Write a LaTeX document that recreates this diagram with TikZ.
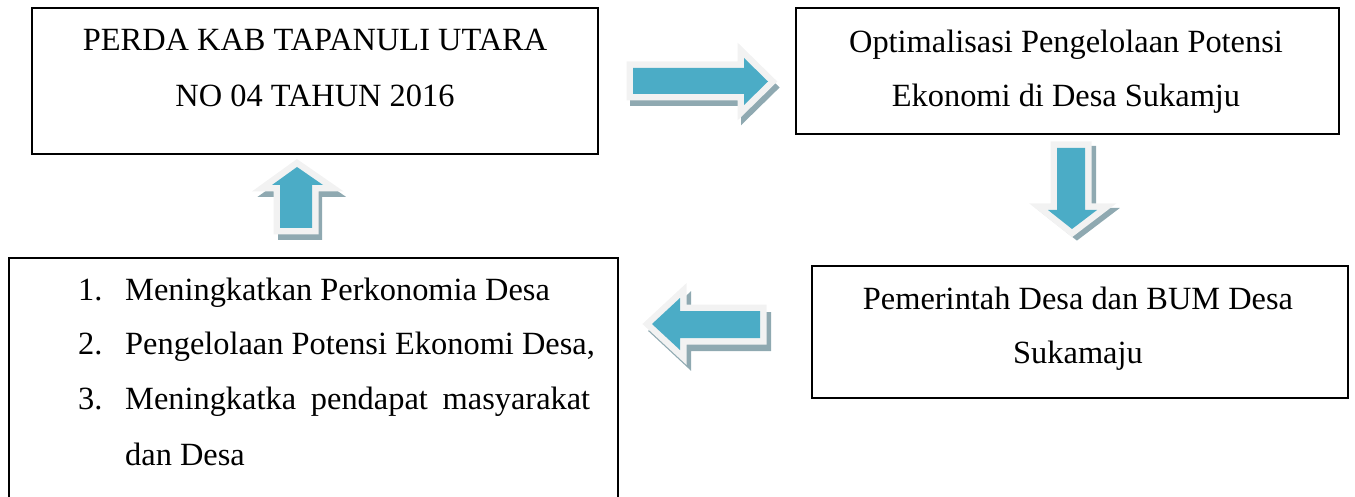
\documentclass[tikz,border=0pt]{standalone}
\usepackage{fontspec}
\setmainfont{Liberation Serif}
\definecolor{arrblue}{HTML}{4BACC6}
\definecolor{arrgrey}{HTML}{F2F2F2}
\definecolor{arrshadow}{HTML}{8FA9B1}
\begin{document}
\begin{tikzpicture}[x=1pt,y=-1pt,
  box/.style={draw=black,line width=1.6pt,inner sep=0pt},
  txt/.style={inner sep=0pt,anchor=base,font=\fontsize{32.4}{35}\selectfont},
  ltxt/.style={txt,anchor=base west},
  arrshad/.style={draw=arrshadow,fill=arrshadow,line width=12pt,line join=miter},
  arrout/.style={draw=arrgrey,fill=arrgrey,line width=13pt,line join=miter},
  arrin/.style={fill=arrblue}]
\useasboundingbox (0,0) rectangle (1355,497);
\clip (0,0) rectangle (1355,497);
% boxes
\draw[box] (32,8) rectangle (598,154);
\node[minimum width=566pt,minimum height=146pt,inner sep=0pt] (perda) at (315,81) {};
\draw[box] (796,8) rectangle (1339,134);
\node[minimum width=543pt,minimum height=126pt,inner sep=0pt] (opt) at (1067.5,71) {};
\draw[box] (812,266) rectangle (1348,398);
\node[minimum width=536pt,minimum height=132pt,inner sep=0pt] (pem) at (1080,332) {};
\draw[box] (9,258) rectangle (618,540);
\node[minimum width=609pt,minimum height=239pt,inner sep=0pt] (hasil) at (313.5,377.5) {};
% texts
\node[txt] (t1a) at (315,51) {PERDA KAB TAPANULI UTARA};
\node[txt] (t1b) at (315,107) {NO 04 TAHUN 2016};
\node[txt] (t2a) at (1066,53) {Optimalisasi Pengelolaan Potensi};
\node[txt] (t2b) at (1066,107) {Ekonomi di Desa Sukamju};
\node[txt] (t3a) at (1078,309) {Pemerintah Desa dan BUM Desa};
\node[txt] (t3b) at (1078,363) {Sukamaju};
\node[ltxt] (n1) at (78,300) {1.};
\node[ltxt] (l1) at (125,300) {Meningkatkan Perkonomia Desa};
\node[ltxt] (n2) at (78,354) {2.};
\node[ltxt] (l2) at (125,354) {Pengelolaan Potensi Ekonomi Desa,};
\node[ltxt] (n3) at (78,409) {3.};
\node[ltxt] (l3) at (125,409) {\makebox[465pt][s]{Meningkatka pendapat masyarakat}};
\node[ltxt] (l4) at (125,465) {dan Desa};
% right arrow
\path[arrshad,shift={(3,6)}] (633,68) -- (744,68) -- (744,58) -- (768,81.5) -- (744,105) -- (744,94) -- (633,94) -- cycle;
\path[arrout] (633,68) -- (744,68) -- (744,58) -- (768,81.5) -- (744,105) -- (744,94) -- (633,94) -- cycle;
\path[arrin] (633,68) -- (744,68) -- (744,58) -- (768,81.5) -- (744,105) -- (744,94) -- (633,94) -- cycle;
% down arrow
\path[arrshad,shift={(5,4)}] (1057,148) -- (1085,148) -- (1085,210) -- (1097,210) -- (1072,229) -- (1048,210) -- (1057,210) -- cycle;
\path[arrout] (1057,148) -- (1085,148) -- (1085,210) -- (1097,210) -- (1072,229) -- (1048,210) -- (1057,210) -- cycle;
\path[arrin] (1057,148) -- (1085,148) -- (1085,210) -- (1097,210) -- (1072,229) -- (1048,210) -- (1057,210) -- cycle;
% up arrow
\path[arrshad,shift={(4,6)}] (280,228) -- (312,228) -- (312,185) -- (323,185) -- (297,167) -- (272,185) -- (280,185) -- cycle;
\path[arrout] (280,228) -- (312,228) -- (312,185) -- (323,185) -- (297,167) -- (272,185) -- (280,185) -- cycle;
\path[arrin] (280,228) -- (312,228) -- (312,185) -- (323,185) -- (297,167) -- (272,185) -- (280,185) -- cycle;
% left arrow
\path[arrshad,shift={(5,7)}] (760,311) -- (680,311) -- (680,298) -- (652,324) -- (680,350) -- (680,338) -- (760,338) -- cycle;
\path[arrout] (760,311) -- (680,311) -- (680,298) -- (652,324) -- (680,350) -- (680,338) -- (760,338) -- cycle;
\path[arrin] (760,311) -- (680,311) -- (680,298) -- (652,324) -- (680,350) -- (680,338) -- (760,338) -- cycle;
\end{tikzpicture}
\end{document}
